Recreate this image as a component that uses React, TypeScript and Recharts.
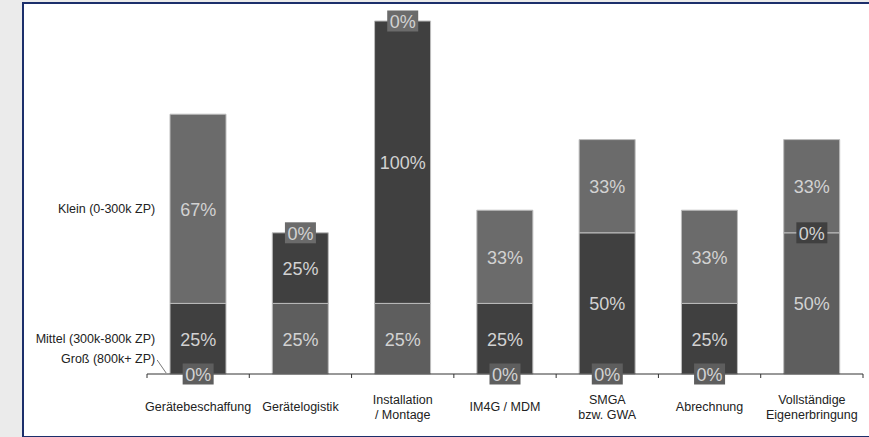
import React from "react";
import { ComposedChart, Bar, Line, XAxis, YAxis } from "recharts";

// Anteil je Leistungsbereich, gestapelt nach Unternehmensgröße
const categories = [
  "Gerätebeschaffung",
  "Gerätelogistik",
  "Installation\n/ Montage",
  "IM4G / MDM",
  "SMGA\nbzw. GWA",
  "Abrechnung",
  "Vollständige\nEigenerbringung",
];
const gross = [0, 25, 25, 0, 0, 0, 50];
const mittel = [25, 25, 100, 25, 50, 25, 0];
const klein = [67, 0, 0, 33, 33, 33, 33];

type Key = "gross" | "mittel" | "klein";
const stackOrder: Key[] = ["gross", "mittel", "klein"];

const seriesNames: Record<Key, string> = {
  gross: "Groß (800k+ ZP)",
  mittel: "Mittel (300k-800k ZP)",
  klein: "Klein (0-300k ZP)",
};

const W = 869;
const H = 437;
const MARGIN = { top: 21, right: 6, left: 147, bottom: 0 };
const BAND = (W - MARGIN.left - MARGIN.right) / categories.length;
const BAR = 56;

const COLORS: Record<Key, string> = { gross: "#5e5e5e", mittel: "#404040", klein: "#6b6b6b" };
const FONT = "Arial, 'Liberation Sans', sans-serif";

const chartData = categories.map((name, i) => ({
  name,
  gross: gross[i],
  mittel: mittel[i],
  klein: klein[i],
}));

// midpoint of a stacked segment, used to place its label
const segmentMid = (key: Key) => (d: any) => {
  let base = 0;
  for (const k of stackOrder) {
    if (k === key) return base + d[k] / 2;
    base += d[k];
  }
  return base;
};

const makeLabel = (key: Key) => (props: any) => {
  const { cx, cy, payload, index } = props;
  const value = payload[key];
  const barLeft = cx - BAR / 2;
  let nameLabel = null;
  if (index === 0) {
    nameLabel =
      key === "gross" ? (
        <g>
          <text x={barLeft - 15} y={cy - 15} textAnchor="end" dominantBaseline="central" fontSize={12.5} fill="#222" fontFamily={FONT}>
            {seriesNames[key]}
          </text>
          <line x1={barLeft - 13} y1={cy - 14} x2={barLeft - 4} y2={cy - 1} stroke="#555" strokeWidth={0.8} />
        </g>
      ) : (
        <text x={barLeft - 15} y={cy} textAnchor="end" dominantBaseline="central" fontSize={12.5} fill="#222" fontFamily={FONT}>
          {seriesNames[key]}
        </text>
      );
  }
  return (
    <g key={`${key}-${index}`}>
      {nameLabel}
      {value === 0 && <rect x={cx - 15.5} y={cy - 10.5} width={31} height={21} fill={COLORS[key]} />}
      <text x={cx} y={cy + 1} textAnchor="middle" dominantBaseline="central" fontSize={18} fill="#d2d2d2" fontFamily={FONT}>
        {`${value}%`}
      </text>
    </g>
  );
};

const CategoryTick = (props: any) => {
  const { x, y, payload, index } = props;
  const lines = String(payload.value).split("\n");
  const first = 33 - (lines.length - 1) * 7.5;
  return (
    <g>
      <line x1={x - BAND / 2} y1={y} x2={x - BAND / 2} y2={y + 4} stroke="#333" />
      {index === categories.length - 1 && <line x1={x + BAND / 2} y1={y} x2={x + BAND / 2} y2={y + 4} stroke="#333" />}
      {lines.map((l, i) => (
        <text key={i} x={x} y={y + first + i * 15} textAnchor="middle" dominantBaseline="central" fontSize={12.5} fill="#222" fontFamily={FONT}>
          {l}
        </text>
      ))}
    </g>
  );
};

export default function App() {
  return (
    <div style={{ position: "fixed", left: 0, top: 0, width: W, height: H, background: "#ebebeb" }}>
      <div
        style={{
          position: "absolute",
          left: 22,
          top: 2,
          width: W - 24,
          height: 432,
          background: "#fff",
          borderLeft: "2px solid #1c2f6b",
          borderTop: "2px solid #1c2f6b",
          borderBottom: "2px solid #1c2f6b",
        }}
      />
      <div style={{ position: "absolute", left: 0, top: 0 }}>
        <ComposedChart width={W} height={H} data={chartData} margin={MARGIN} barSize={BAR}>
          <YAxis hide domain={[0, 125]} />
          <XAxis
            dataKey="name"
            height={63}
            interval={0}
            tickLine={false}
            tickSize={0}
            tickMargin={0}
            axisLine={{ stroke: "#333" }}
            tick={<CategoryTick />}
          />
          {stackOrder.map((k) => (
            <Bar key={k} dataKey={k} stackId="a" fill={COLORS[k]} stroke="#bdbdbd" strokeWidth={1} isAnimationActive={false} />
          ))}
          {stackOrder.map((k) => (
            <Line
              key={`lbl-${k}`}
              dataKey={segmentMid(k)}
              stroke="none"
              dot={makeLabel(k)}
              activeDot={false}
              legendType="none"
              isAnimationActive={false}
            />
          ))}
        </ComposedChart>
      </div>
    </div>
  );
}
